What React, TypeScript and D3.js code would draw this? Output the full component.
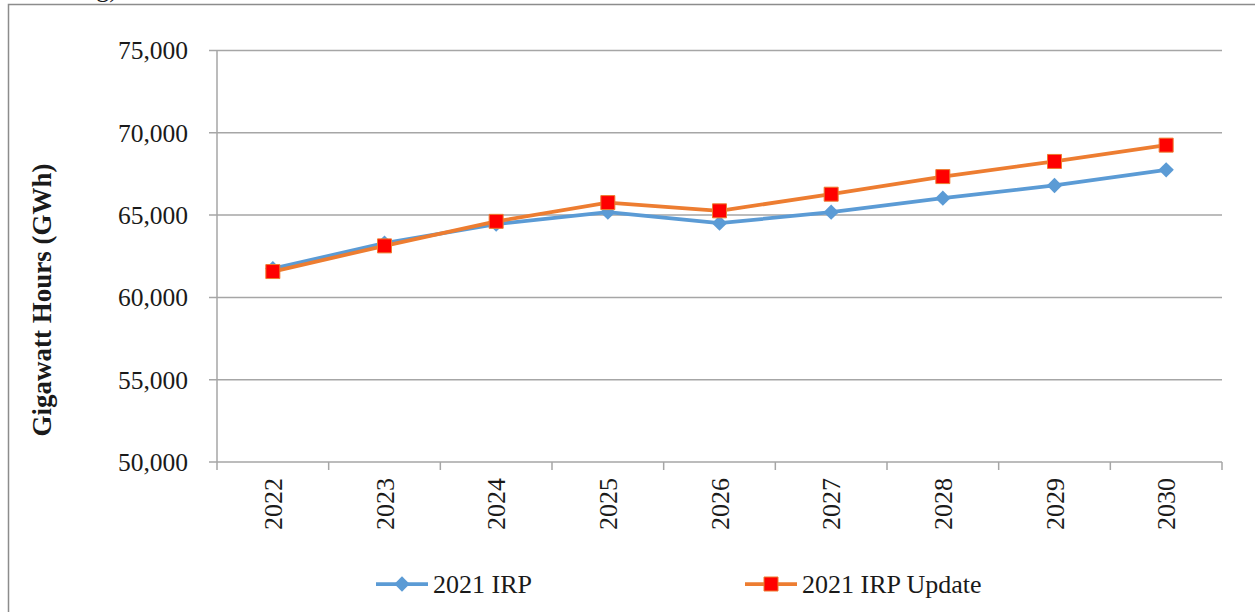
import React, { useEffect, useRef } from 'react';
import * as d3 from 'd3';

// chart data
const years = ['2022', '2023', '2024', '2025', '2026', '2027', '2028', '2029', '2030'];
const irp2021 = [61750, 63300, 64450, 65180, 64510, 65180, 66030, 66800, 67750];
const irpUpdate = [61570, 63130, 64620, 65760, 65260, 66270, 67340, 68260, 69250];
const yTicks = [50000, 55000, 60000, 65000, 70000, 75000];

const W = 1255;
const H = 612;
const FONT = '"Liberation Serif", "Times New Roman", serif';

const App = () => {
    const svgRef = useRef<SVGSVGElement | null>(null);

    useEffect(() => {
        const svg = d3.select(svgRef.current);
        svg.selectAll('*').remove();

        const left = 217;
        const right = 1222;
        const top = 50.5;
        const bottom = 462;

        const x = d3.scaleBand<string>().domain(years).range([left, right]);
        const y = d3.scaleLinear().domain([50000, 75000]).range([bottom, top]);
        const cx = (d: string) => (x(d) as number) + x.bandwidth() / 2;

        // outer frame
        svg.append('rect')
            .attr('x', 8.5).attr('y', 4.5)
            .attr('width', W + 20).attr('height', H + 20)
            .attr('fill', 'none')
            .attr('stroke', '#8c8c8c')
            .attr('stroke-width', 1.5);

        // clipped title fragment above the frame (cut off in the source too)
        svg.append('text')
            .attr('x', 118).attr('y', -3)
            .attr('text-anchor', 'end')
            .style('font-family', FONT)
            .style('font-size', '26px')
            .style('fill', '#1a1a1a')
            .text('ng)');

        // gridlines
        svg.append('g')
            .selectAll('line')
            .data(yTicks)
            .enter()
            .append('line')
            .attr('x1', left - 8).attr('x2', right)
            .attr('y1', d => y(d)).attr('y2', d => y(d))
            .attr('stroke', '#a6a6a6')
            .attr('stroke-width', 1.5);

        // y axis line
        svg.append('line')
            .attr('x1', left).attr('x2', left)
            .attr('y1', top).attr('y2', bottom)
            .attr('stroke', '#a6a6a6')
            .attr('stroke-width', 1.5);

        // x ticks at band edges
        const edges = years.map(d => x(d) as number).concat([right]);
        svg.append('g')
            .selectAll('line')
            .data(edges)
            .enter()
            .append('line')
            .attr('x1', d => d).attr('x2', d => d)
            .attr('y1', bottom).attr('y2', bottom + 8)
            .attr('stroke', '#a6a6a6')
            .attr('stroke-width', 1.5);

        // y tick labels
        svg.append('g')
            .selectAll('text')
            .data(yTicks)
            .enter()
            .append('text')
            .attr('x', 188)
            .attr('y', d => y(d))
            .attr('dy', '0.35em')
            .attr('text-anchor', 'end')
            .style('font-family', FONT)
            .style('font-size', '25.5px')
            .style('fill', '#1a1a1a')
            .text(d => d3.format(',')(d));

        // x tick labels (rotated)
        svg.append('g')
            .selectAll('text')
            .data(years)
            .enter()
            .append('text')
            .attr('transform', d => `translate(${cx(d)}, 478) rotate(-90)`)
            .attr('dy', '0.35em')
            .attr('text-anchor', 'end')
            .style('font-family', FONT)
            .style('font-size', '26px')
            .style('fill', '#1a1a1a')
            .text(d => d);

        // y axis title
        svg.append('text')
            .attr('transform', 'translate(42, 300) rotate(-90)')
            .attr('dy', '0.35em')
            .attr('text-anchor', 'middle')
            .style('font-family', FONT)
            .style('font-size', '27px')
            .style('font-weight', 'bold')
            .style('fill', '#1a1a1a')
            .text('Gigawatt Hours (GWh)');

        const line = d3.line<number>()
            .x((d, i) => cx(years[i]))
            .y(d => y(d));

        const diamond = d3.symbol().type(d3.symbolDiamond2).size(150)();
        const square = d3.symbol().type(d3.symbolSquare).size(196)();

        // 2021 IRP
        svg.append('path')
            .datum(irp2021)
            .attr('d', line)
            .attr('fill', 'none')
            .attr('stroke', '#5b9bd5')
            .attr('stroke-width', 3.75)
            .attr('stroke-linejoin', 'round');
        svg.append('g')
            .selectAll('path')
            .data(irp2021)
            .enter()
            .append('path')
            .attr('d', diamond)
            .attr('transform', (d, i) => `translate(${cx(years[i])}, ${y(d)})`)
            .attr('fill', '#5b9bd5');

        // 2021 IRP Update
        svg.append('path')
            .datum(irpUpdate)
            .attr('d', line)
            .attr('fill', 'none')
            .attr('stroke', '#ed7d31')
            .attr('stroke-width', 3.75)
            .attr('stroke-linejoin', 'round');
        svg.append('g')
            .selectAll('path')
            .data(irpUpdate)
            .enter()
            .append('path')
            .attr('d', square)
            .attr('transform', (d, i) => `translate(${cx(years[i])}, ${y(d)})`)
            .attr('fill', '#ff0000')
            .attr('stroke', '#ed7d31')
            .attr('stroke-width', 1);

        // legend
        const legend = [
            { label: '2021 IRP', color: '#5b9bd5', marker: diamond, fill: '#5b9bd5', x0: 376 },
            { label: '2021 IRP Update', color: '#ed7d31', marker: square, fill: '#ff0000', x0: 745 },
        ];
        const ly = 584;
        legend.forEach(item => {
            const g = svg.append('g');
            g.append('line')
                .attr('x1', item.x0).attr('x2', item.x0 + 52)
                .attr('y1', ly).attr('y2', ly)
                .attr('stroke', item.color)
                .attr('stroke-width', 3.75);
            g.append('path')
                .attr('d', item.marker)
                .attr('transform', `translate(${item.x0 + 26}, ${ly})`)
                .attr('fill', item.fill)
                .attr('stroke', item.fill === '#ff0000' ? '#ed7d31' : 'none')
                .attr('stroke-width', 1);
            g.append('text')
                .attr('x', item.x0 + 57)
                .attr('y', ly)
                .attr('dy', '0.35em')
                .style('font-family', FONT)
                .style('font-size', '26px')
                .style('fill', '#1a1a1a')
                .text(item.label);
        });
    }, []);

    return (
        <svg
            ref={svgRef}
            width={W}
            height={H}
            style={{ position: 'absolute', left: 0, top: 0, display: 'block', background: '#fff' }}
        />
    );
};

export default App;
